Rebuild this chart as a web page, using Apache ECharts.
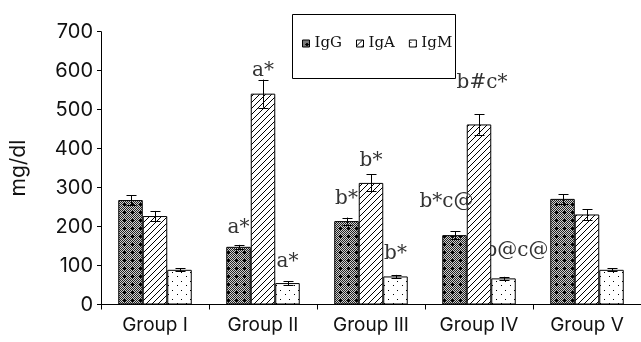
<!DOCTYPE html>
<html><head><meta charset="utf-8">
<script src="https://cdn.jsdelivr.net/npm/echarts@6/dist/echarts.min.js"></script>
<style>html,body{margin:0;padding:0;background:#fff}#c{width:641px;height:342px}</style>
</head><body><div id="c"></div>
<script>
// ---- data ----
const categories = ['Group I', 'Group II', 'Group III', 'Group IV', 'Group V'];
const seriesNames = ['IgG', 'IgA', 'IgM'];
const igG = [268, 148, 214, 178, 271];
const igA = [227, 541, 312, 462, 231];
const igM = [89, 55, 72, 67, 89];
const igGErr = [12, 5, 9, 10, 12];
const igAErr = [13, 36, 22, 26, 14];
const igMErr = [4, 5, 4, 4, 4];
const yMin = 0, yMax = 700, yStep = 100;
const yAxisName = 'mg/dl';
// annotations: text, group index, series index
const annText = ['a*', 'a*', 'a*', 'b*', 'b*', 'b*', 'b*c@', 'b#c*', 'b@c@'];
const annGroup = [1, 1, 1, 2, 2, 2, 3, 3, 3];
const annSeries = [0, 1, 2, 0, 1, 2, 0, 1, 2];

// ---- layout / style ----
const BAR_W = 24.5;
const annDx = [0, 0, 0, 0, 0, 0, -8, 3, 13];
const annDy = [-11.5, -2.5, -13, -12.5, -7.5, -15, -23, -26, -20];
const annBehind = [false, false, false, false, false, false, false, false, true];

const values = [igG, igA, igM];
const errs = [igGErr, igAErr, igMErr];

function tile(w, h, draw) {
  const c = document.createElement('canvas');
  c.width = w; c.height = h;
  const ctx = c.getContext('2d');
  draw(ctx);
  return { image: c, repeat: 'repeat' };
}
const patG = tile(8, 8, ctx => {
  ctx.fillStyle = '#d0d0d0'; ctx.fillRect(0, 0, 8, 8);
  ctx.fillStyle = '#222';
  for (let y = 0; y < 8; y++) for (let x = 0; x < 8; x++) if ((x + y) % 2 === 0) ctx.fillRect(x, y, 1, 1);
  ctx.fillStyle = '#000';
  ctx.fillRect(3, 4, 3, 1); ctx.fillRect(4, 3, 1, 3);
});
const patA = tile(6, 6, ctx => {
  ctx.fillStyle = '#fff'; ctx.fillRect(0, 0, 6, 6);
  ctx.fillStyle = '#000';
  for (let i = 0; i < 6; i++) ctx.fillRect(i, 5 - i, 1, 1);
});
const patM = tile(9, 9, ctx => {
  ctx.fillStyle = '#fff'; ctx.fillRect(0, 0, 9, 9);
  ctx.fillStyle = '#000';
  ctx.fillRect(1, 2, 1, 1); ctx.fillRect(6, 6, 1, 1);
});
const pats = [patG, patA, patM];

const chart = echarts.init(document.getElementById('c'), null, { renderer: 'canvas' });

const barSeries = seriesNames.map((n, i) => ({
  name: n, type: 'bar', data: values[i], barWidth: BAR_W, barGap: '0%',
  itemStyle: { color: pats[i], borderColor: '#000', borderWidth: 1 },
  z: 2, animation: false
}));

const errData = [];
for (let s = 0; s < 3; s++) for (let g = 0; g < categories.length; g++) errData.push([g, values[s][g], errs[s][g], s]);

const errSeries = {
  type: 'custom', z: 4, silent: true, animation: false, clip: false,
  encode: { x: 0, y: 1 },
  data: errData,
  renderItem: (params, api) => {
    const g = api.value(0), v = api.value(1), e = api.value(2), s = api.value(3);
    const off = (s - 1) * BAR_W;
    const t = api.coord([g, v + e]), b = api.coord([g, v - e]);
    const x = Math.round(t[0] + off) + 0.5;
    const st = { stroke: '#000', lineWidth: 1 };
    const hw = 5;
    return { type: 'group', children: [
      { type: 'line', shape: { x1: x, y1: t[1], x2: x, y2: b[1] }, style: st },
      { type: 'line', shape: { x1: x - hw, y1: Math.round(t[1]) + 0.5, x2: x + hw, y2: Math.round(t[1]) + 0.5 }, style: st },
      { type: 'line', shape: { x1: x - hw, y1: Math.round(b[1]) + 0.5, x2: x + hw, y2: Math.round(b[1]) + 0.5 }, style: st }
    ]};
  }
};

function annSeriesFor(behind) {
  const data = [];
  annText.forEach((t, i) => {
    if (annBehind[i] !== behind) return;
    const s = annSeries[i], g = annGroup[i];
    data.push([g, values[s][g] + errs[s][g], s, i]);
  });
  return {
    type: 'custom', z: behind ? 1 : 5, silent: true, animation: false, clip: false,
    encode: { x: 0, y: 1 }, data,
    renderItem: (params, api) => {
      const g = api.value(0), v = api.value(1), s = api.value(2), i = api.value(3);
      const p = api.coord([g, v]);
      return { type: 'text', x: p[0] + (s - 1) * BAR_W + annDx[i], y: p[1] + annDy[i] + 4,
        style: { text: annText[i], fill: '#333', font: '20px "DejaVu Serif"', align: 'center', verticalAlign: 'bottom' } };
    }
  };
}

chart.setOption({
  animation: false,
  backgroundColor: '#fff',
  grid: { left: 99, right: -9, top: 31.7, bottom: 37.5, containLabel: false },
  legend: {
    data: seriesNames, left: 302, top: 36, itemWidth: 7, itemHeight: 7, itemGap: 14, icon: 'rect',
    padding: 0,
    textStyle: { fontFamily: 'DejaVu Serif', fontSize: 15, color: '#111' },
    itemStyle: { borderColor: '#000', borderWidth: 1 }
  },
  graphic: [{ type: 'rect', left: 290, top: 12, shape: { width: 163, height: 64 }, style: { fill: null, stroke: '#000', lineWidth: 1 }, z: 10 }],
  xAxis: {
    type: 'category', data: categories,
    axisLine: { lineStyle: { color: '#000', width: 1 } },
    axisTick: { show: true, length: 5, lineStyle: { color: '#000' } },
    axisLabel: { color: '#111', fontFamily: 'Inter', fontSize: 19, margin: 11 }
  },
  yAxis: {
    type: 'value', min: yMin, max: yMax, interval: yStep,
    name: yAxisName, nameLocation: 'middle', nameRotate: 90, nameGap: 72,
    nameTextStyle: { color: '#111', fontFamily: 'Inter', fontSize: 21 },
    splitLine: { show: false },
    axisLine: { show: true, lineStyle: { color: '#000', width: 1 } },
    axisTick: { show: true, length: 4, lineStyle: { color: '#000' } },
    axisLabel: { color: '#111', fontFamily: 'Inter', fontSize: 20, margin: 8 }
  },
  series: [annSeriesFor(true), ...barSeries, errSeries, annSeriesFor(false)]
});
</script></body></html>
